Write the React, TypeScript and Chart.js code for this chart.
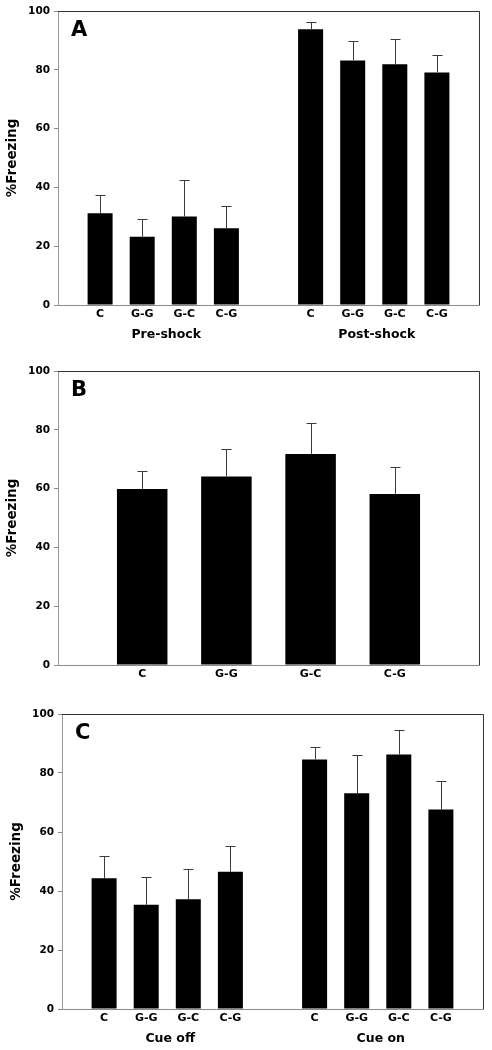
import React, { useEffect, useRef } from "react";
import { Chart, registerables } from "chart.js";

Chart.register(...registerables);

// ---------- Data ----------
const groups = ["C", "G-G", "G-C", "C-G"];

// Panel A
const panelALabels = ["", ...groups, "", ...groups, ""];
const panelAMeans = [null, 31.2, 23.2, 30.1, 26.1, null, 93.8, 83.2, 81.9, 79.1, null];
const panelAErrors = [null, 6.2, 6.2, 12.4, 7.6, null, 2.4, 6.6, 8.7, 6.0, null];
const panelAGroupNames = ["Pre-shock", "Post-shock"];

// Panel B
const panelBLabels = ["", ...groups, ""];
const panelBMeans = [null, 59.9, 64.1, 71.8, 58.2, null];
const panelBErrors = [null, 6.2, 9.3, 10.5, 9.3, null];

// Panel C
const panelCLabels = ["", ...groups, "", ...groups, ""];
const panelCMeans = [null, 44.3, 35.3, 37.2, 46.5, null, 84.6, 73.1, 86.3, 67.6, null];
const panelCErrors = [null, 7.5, 9.3, 10.2, 8.7, null, 4.1, 12.9, 8.4, 9.7, null];
const panelCGroupNames = ["Cue off", "Cue on"];

const yTicks = [0, 20, 40, 60, 80, 100];
const yTitle = "%Freezing";

const FONT = "'DejaVu Sans', Verdana, sans-serif";

// ---------- Plugins ----------
const decorPlugin = {
  id: "decor",
  afterDatasetsDraw(chart: any) {
    const opts = chart.options.plugins.decor || {};
    const { ctx, chartArea } = chart;
    const xs = chart.scales.x;
    const ys = chart.scales.y;
    const meta = chart.getDatasetMeta(0);
    const values: (number | null)[] = chart.data.datasets[0].data;
    const errors: (number | null)[] = opts.errors || [];
    ctx.save();
    // error bars
    ctx.strokeStyle = "#3a3a3a";
    ctx.lineWidth = 1;
    values.forEach((v, i) => {
      const e = errors[i];
      if (v == null || e == null) return;
      const el = meta.data[i];
      if (!el) return;
      const x = Math.round(el.x) + 0.5;
      const yb = ys.getPixelForValue(v);
      const yt = Math.round(ys.getPixelForValue(v + e)) + 0.5;
      ctx.beginPath();
      ctx.moveTo(x, yb);
      ctx.lineTo(x, yt);
      ctx.moveTo(x - 5, yt);
      ctx.lineTo(x + 5, yt);
      ctx.stroke();
    });
    // top & right frame
    ctx.strokeStyle = "#333333";
    ctx.beginPath();
    const t = Math.round(chartArea.top) + 0.5;
    const r = Math.round(chartArea.right) + 0.5;
    ctx.moveTo(chartArea.left, t);
    ctx.lineTo(r, t);
    ctx.lineTo(r, chartArea.bottom);
    ctx.stroke();
    // panel letter
    ctx.fillStyle = "#000";
    ctx.font = `bold 21px ${FONT}`;
    ctx.textAlign = "left";
    ctx.textBaseline = "alphabetic";
    ctx.fillText(opts.letter || "", chartArea.left + 13, chartArea.top + 25);
    // group labels
    const gn: string[] = opts.groupNames || [];
    if (gn.length) {
      ctx.font = `bold 12.5px ${FONT}`;
      ctx.textAlign = "center";
      ctx.textBaseline = "middle";
      gn.forEach((name, g) => {
        const a = xs.getPixelForValue(1 + g * 5);
        const b = xs.getPixelForValue(4 + g * 5);
        ctx.fillText(name, (a + b) / 2 + 3, chartArea.bottom + 30);
      });
    }
    ctx.restore();
  },
};

// ---------- Panel ----------
type PanelProps = {
  labels: string[];
  means: (number | null)[];
  errors: (number | null)[];
  letter: string;
  groupNames?: string[];
  top: number;
  left: number;
  width: number;
  height: number;
  padRight: number;
  yWidth: number;
  xHeight: number;
  barPct: number;
};

function Panel(p: PanelProps) {
  const ref = useRef<HTMLCanvasElement>(null);
  useEffect(() => {
    if (!ref.current) return;
    const chart = new Chart(ref.current, {
      type: "bar",
      data: {
        labels: p.labels,
        datasets: [
          {
            data: p.means as any,
            backgroundColor: "#000000",
            borderColor: "#222222",
            borderWidth: 0,
            categoryPercentage: 1,
            barPercentage: p.barPct,
          },
        ],
      },
      options: {
        animation: false,
        responsive: false,
        maintainAspectRatio: false,
        layout: { padding: { top: 11, right: p.padRight, left: 0, bottom: 0 } },
        plugins: {
          legend: { display: false },
          tooltip: { enabled: false },
          decor: { errors: p.errors, letter: p.letter, groupNames: p.groupNames || [] },
        } as any,
        scales: {
          x: {
            offset: false,
            grid: { display: false, drawTicks: false },
            border: { display: true, color: "#8a8a8a", width: 1 },
            ticks: {
              color: "#000",
              font: { family: FONT, size: 11, weight: "bold" },
              padding: 3,
              maxRotation: 0,
              autoSkip: false,
            },
            afterFit: (s: any) => {
              s.height = p.xHeight;
            },
          },
          y: {
            min: 0,
            max: 100,
            afterBuildTicks: (s: any) => {
              s.ticks = yTicks.map((v) => ({ value: v }));
            },
            grid: {
              drawOnChartArea: false,
              drawTicks: true,
              tickLength: 4,
              color: "#8a8a8a",
            },
            border: { display: true, color: "#9a9a9a", width: 1 },
            ticks: {
              color: "#000",
              font: { family: FONT, size: 10.5, weight: "bold" },
              padding: 4,
            },
            title: {
              display: true,
              text: yTitle,
              color: "#000",
              font: { family: FONT, size: 13.5, weight: "bold" },
              padding: { top: 4, bottom: 4 },
            },
            afterFit: (s: any) => {
              s.width = p.yWidth;
            },
          },
        },
      },
      plugins: [decorPlugin],
    });
    return () => chart.destroy();
  }, []);
  return (
    <div
      style={{
        position: "absolute",
        top: p.top,
        left: p.left,
        width: p.width,
        height: p.height,
      }}
    >
      <canvas ref={ref} width={p.width} height={p.height} style={{ display: "block" }} />
    </div>
  );
}

export default function App() {
  return (
    <div
      style={{
        position: "absolute",
        left: 0,
        top: 0,
        width: 492,
        height: 1050,
        background: "#fff",
      }}
    >
      <Panel
        labels={panelALabels}
        means={panelAMeans}
        errors={panelAErrors}
        letter="A"
        groupNames={panelAGroupNames}
        top={0}
        left={0}
        width={492}
        height={346}
        padRight={13}
        yWidth={58}
        xHeight={41}
        barPct={0.594}
      />
      <Panel
        labels={panelBLabels}
        means={panelBMeans}
        errors={panelBErrors}
        letter="B"
        top={360}
        left={0}
        width={492}
        height={330}
        padRight={13}
        yWidth={58}
        xHeight={25}
        barPct={0.6}
      />
      <Panel
        labels={panelCLabels}
        means={panelCMeans}
        errors={panelCErrors}
        letter="C"
        groupNames={panelCGroupNames}
        top={703}
        left={4}
        width={488}
        height={347}
        padRight={9}
        yWidth={58}
        xHeight={41}
        barPct={0.594}
      />
    </div>
  );
}
